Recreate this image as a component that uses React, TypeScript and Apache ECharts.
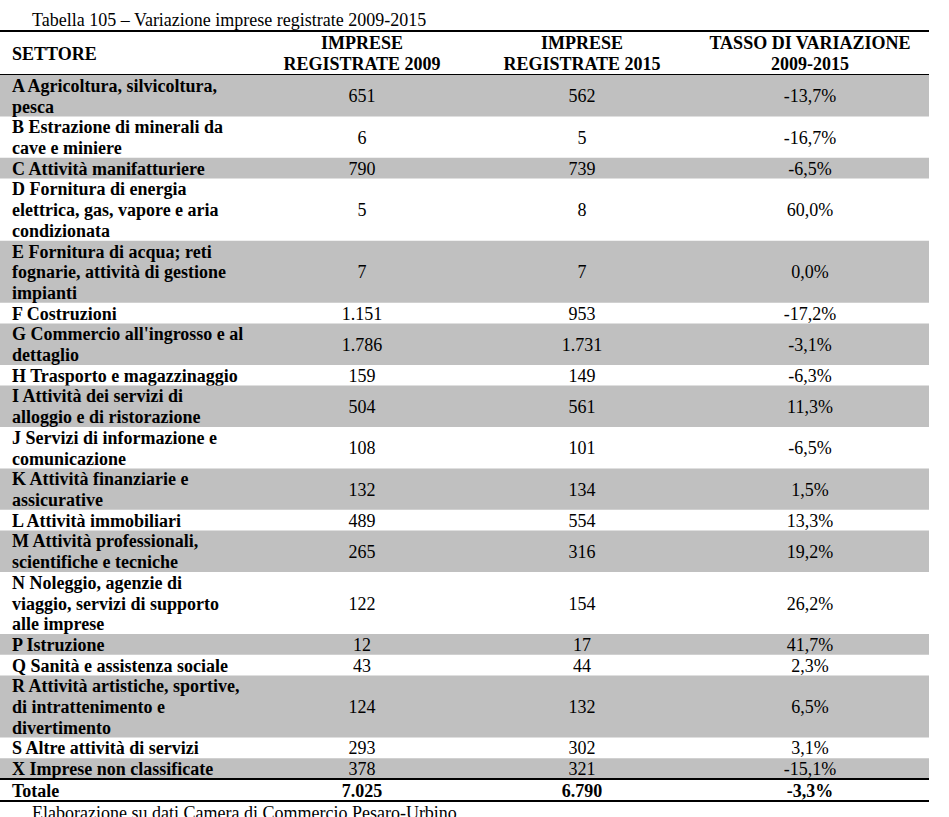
import React, { useEffect, useRef } from "react";
import * as echarts from "echarts";

const TITLE = "Tabella 105 – Variazione imprese registrate 2009-2015";
const FOOTER = "Elaborazione su dati Camera di Commercio Pesaro-Urbino";

const headers = [
  "SETTORE",
  "IMPRESE\nREGISTRATE 2009",
  "IMPRESE\nREGISTRATE 2015",
  "TASSO DI VARIAZIONE\n2009-2015",
];

const sectors = [
  "A Agricoltura, silvicoltura,\npesca",
  "B Estrazione di minerali da\ncave e miniere",
  "C Attività manifatturiere",
  "D Fornitura di energia\nelettrica, gas, vapore e aria\ncondizionata",
  "E Fornitura di acqua; reti\nfognarie, attività di gestione\nimpianti",
  "F Costruzioni",
  "G Commercio all'ingrosso e al\ndettaglio",
  "H Trasporto e magazzinaggio",
  "I Attività dei servizi di\nalloggio e di ristorazione",
  "J Servizi di informazione e\ncomunicazione",
  "K Attività finanziarie e\nassicurative",
  "L Attività immobiliari",
  "M Attività professionali,\nscientifiche e tecniche",
  "N Noleggio, agenzie di\nviaggio, servizi di supporto\nalle imprese",
  "P Istruzione",
  "Q Sanità e assistenza sociale",
  "R Attività artistiche, sportive,\ndi intrattenimento e\ndivertimento",
  "S Altre attività di servizi",
  "X Imprese non classificate",
  "Totale",
];

const imprese2009 = [651, 6, 790, 5, 7, 1151, 1786, 159, 504, 108, 132, 489, 265, 122, 12, 43, 124, 293, 378, 7025];
const imprese2015 = [562, 5, 739, 8, 7, 953, 1731, 149, 561, 101, 134, 554, 316, 154, 17, 44, 132, 302, 321, 6790];
const tasso = [-13.7, -16.7, -6.5, 60.0, 0.0, -17.2, -3.1, -6.3, 11.3, -6.5, 1.5, 13.3, 19.2, 26.2, 41.7, 2.3, 6.5, 3.1, -15.1, -3.3];

// layout constants
const FONT_FAMILY = '"Liberation Serif", "Times New Roman", serif';
const FS = 18;
const TABLE_W = 929;
const COL_X = [12, 362, 582, 810];
const GRAY = "#c0c0c0";
const HEADER_PAD = 0.125; // extra height (in line units)
const TOTAL_PAD = 0.0625;

const fmtInt = (n: number) => String(n).replace(/\B(?=(\d{3})+(?!\d))/g, ".");
const fmtPct = (v: number) => v.toFixed(1).replace(".", ",") + "%";

const rowTexts: string[][] = [
  headers,
  ...sectors.map((s, i) => [s, fmtInt(imprese2009[i]), fmtInt(imprese2015[i]), fmtPct(tasso[i])]),
];
const LAST = rowTexts.length - 1;
const rowLines = rowTexts.map((r) => Math.max(...r.map((t) => t.split("\n").length)));
const rowSpans = rowLines.map((n, i) => n + (i === 0 ? HEADER_PAD : i === LAST ? TOTAL_PAD : 0));
const rowStarts: number[] = [];
rowSpans.reduce((acc, n) => {
  rowStarts.push(acc);
  return acc + n;
}, 0);
const TOTAL_SPAN = rowSpans.reduce((a, b) => a + b, 0);

export default function App() {
  const ref = useRef<HTMLDivElement>(null);
  useEffect(() => {
    document.body.style.margin = "0";
    const chart = echarts.init(ref.current!, undefined, { renderer: "svg" });
    chart.setOption({
      animation: false,
      backgroundColor: "#ffffff",
      grid: { left: 0, top: 31, width: TABLE_W, height: 770 },
      xAxis: { type: "value", min: 0, max: TABLE_W, show: false },
      yAxis: { type: "value", min: 0, max: TOTAL_SPAN, inverse: true, show: false },
      graphic: [
        {
          type: "text",
          left: 32,
          top: 11,
          style: { text: TITLE, font: `${FS}px ${FONT_FAMILY}`, fill: "#000" },
        },
        {
          type: "text",
          left: 32,
          top: 804,
          style: { text: FOOTER, font: `${FS}px ${FONT_FAMILY}`, fill: "#000" },
        },
      ],
      series: [
        {
          type: "custom",
          silent: true,
          clip: false,
          data: rowTexts.map((_, i) => [i]),
          renderItem: (params: any, api: any) => {
            const i = params.dataIndex;
            const start = rowStarts[i];
            const span = rowSpans[i];
            const [x0, y0] = api.coord([0, start]);
            const [x1, y1] = api.coord([TABLE_W, start + span]);
            const lh = api.coord([0, 1])[1] - api.coord([0, 0])[1];
            const yMid = (y0 + y1) / 2;
            const children: any[] = [];
            const isHeader = i === 0;
            const isTotal = i === LAST;
            const k = i - 1;
            if (!isHeader && !isTotal && k % 2 === 0) {
              children.push({
                type: "rect",
                shape: { x: x0, y: y0, width: x1 - x0, height: y1 - y0 },
                style: { fill: GRAY },
              });
            }
            rowTexts[i].forEach((t, c) => {
              const bold = isHeader || isTotal || c === 0;
              children.push({
                type: "text",
                style: {
                  text: t,
                  x: COL_X[c],
                  y: yMid + 0.5,
                  align: c === 0 ? "left" : "center",
                  verticalAlign: "middle",
                  lineHeight: lh,
                  font: `${bold ? "bold " : ""}${FS}px ${FONT_FAMILY}`,
                  fill: "#000",
                },
              });
            });
            const rule = (y: number) => ({
              type: "line",
              shape: { x1: x0, y1: y, x2: x1, y2: y },
              style: { stroke: "#000", lineWidth: 2 },
            });
            if (isHeader || isTotal) {
              children.push(rule(y0));
              children.push(rule(y1));
            }
            return { type: "group", children };
          },
        },
      ],
    });
    return () => chart.dispose();
  }, []);
  return <div ref={ref} style={{ width: 949, height: 817 }} />;
}
